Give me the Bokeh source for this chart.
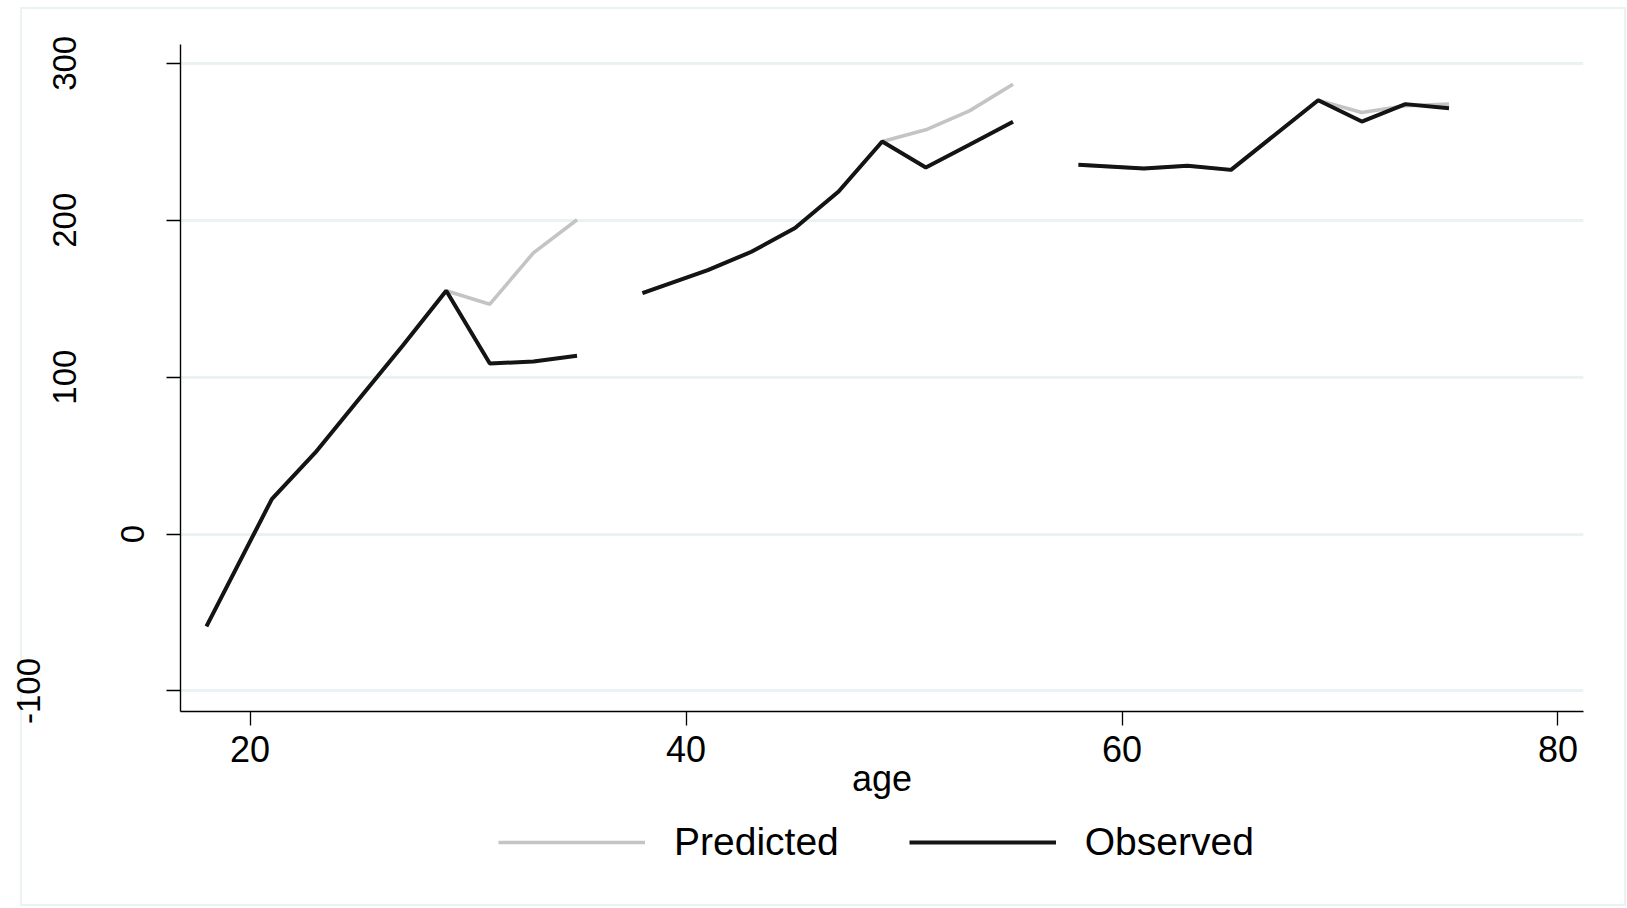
import numpy as np
from bokeh.plotting import figure
from bokeh.layouts import column
from bokeh.models import (ColumnDataSource, FixedTicker, Legend, LegendItem,
                          PrintfTickFormatter, LinearAxis)
from bokeh.embed import file_html
from bokeh.resources import INLINE

nan = np.nan

# ---- data ----
age = [18, 21, 23, 25, 27, 29, 31, 33, 35, nan,
       38, 41, 43, 45, 47, 49, 51, 53, 55, nan,
       58, 61, 63, 65, 69, 71, 73, 75]
observed = [-58.9, 22.3, 52.0, 86.0, 120.0, 155.0, 108.7, 110.0, 113.6, nan,
            153.6, 168.2, 179.9, 195.0, 218.3, 250.2, 233.6, 248.1, 262.7, nan,
            235.3, 233.0, 234.7, 232.1, 276.5, 262.9, 274.0, 271.4]
predicted = [-58.9, 22.3, 52.0, 86.0, 120.0, 155.0, 146.5, 179.2, 200.3, nan,
             153.6, 168.2, 179.9, 195.0, 218.3, 250.2, 257.6, 269.7, 286.7, nan,
             235.3, 233.0, 234.7, 232.1, 276.5, 268.7, 273.0, 274.0]
x_ticks = [20, 40, 60, 80]
y_ticks = [-100, 0, 100, 200, 300]
series_names = ["Predicted", "Observed"]

src = ColumnDataSource(dict(age=np.array(age, dtype=float),
                            obs=np.array(observed, dtype=float),
                            pred=np.array(predicted, dtype=float)))

FONT = "Liberation Sans"
GRID = "#eaf2f3"
PRED_COLOR, OBS_COLOR = "#c4c4c4", "#141414"
PRED_W, OBS_W = 3.6, 4.0

p = figure(width=1627, height=820, output_backend="svg", toolbar_location=None,
           x_range=(16.81, 81.17), y_range=(-113.1, 312.0),
           min_border_left=180, min_border_right=44, min_border_top=44,
           min_border_bottom=109)
p.outline_line_color = None
p.background_fill_color = "white"
p.border_fill_alpha = 0

r_pred = p.line("age", "pred", source=src, line_color=PRED_COLOR, line_width=PRED_W)
r_obs = p.line("age", "obs", source=src, line_color=OBS_COLOR, line_width=OBS_W)

p.xgrid.visible = False
p.ygrid.grid_line_color = GRID
p.ygrid.grid_line_width = 3


def style_axis(ax):
    ax.axis_line_color = "black"
    ax.axis_line_width = 1.4
    ax.major_tick_line_color = "black"
    ax.major_tick_line_width = 1.3
    ax.major_tick_out = 14
    ax.major_tick_in = 0
    ax.minor_tick_line_color = None
    ax.major_label_text_font = FONT
    ax.major_label_text_color = "black"
    ax.formatter = PrintfTickFormatter(format="%d")


style_axis(p.xaxis[0])
style_axis(p.yaxis[0])

p.xaxis.ticker = FixedTicker(ticks=x_ticks)
p.xaxis.major_label_text_font_size = "36px"
p.xaxis.major_label_standoff = 10
p.xaxis.axis_label = "age"
p.xaxis.axis_label_text_font = FONT
p.xaxis.axis_label_text_font_style = "normal"
p.xaxis.axis_label_text_font_size = "36px"
p.xaxis.axis_label_text_color = "black"
p.xaxis.axis_label_standoff = -7

# y axis: line + ticks; the tick labels sit at different distances, as in the reference
yax = p.yaxis[0]
yax.ticker = FixedTicker(ticks=y_ticks)
yax.major_label_text_font_size = "33px"
yax.major_label_orientation = "vertical"
yax.major_label_overrides = {t: "" for t in y_ticks if t != 0}
yax.major_label_standoff = 22

ax2 = LinearAxis(ticker=FixedTicker(ticks=[t for t in y_ticks if t > 0]))
style_axis(ax2)
ax2.axis_line_color = None
ax2.major_tick_line_color = None
ax2.major_tick_out = 0
ax2.major_label_text_font_size = "33px"
ax2.major_label_orientation = "vertical"
ax2.major_label_standoff = 42
p.add_layout(ax2, "left")

ax3 = LinearAxis(ticker=FixedTicker(ticks=[t for t in y_ticks if t < 0]))
style_axis(ax3)
ax3.axis_line_color = None
ax3.major_tick_line_color = None
ax3.major_tick_out = 0
ax3.major_label_text_font_size = "33px"
ax3.major_label_orientation = "vertical"
ax3.major_label_standoff = 10
p.add_layout(ax3, "left")

# legend strip below (its frame is aligned with the main frame by the column)
p2 = figure(width=1627, height=88, output_backend="svg", toolbar_location=None,
            x_range=(0, 1), y_range=(0, 1), min_border=0,
            x_axis_type=None, y_axis_type=None)
p2.outline_line_color = None
p2.background_fill_alpha = 0
p2.border_fill_alpha = 0
p2.xgrid.visible = False
p2.ygrid.visible = False
# same series as legend keys; their data lie outside this strip's ranges
k_pred = p2.line("age", "pred", source=src, line_color=PRED_COLOR, line_width=PRED_W)
k_obs = p2.line("age", "obs", source=src, line_color=OBS_COLOR, line_width=OBS_W)
legend = Legend(items=[LegendItem(label=series_names[0], renderers=[k_pred]),
                       LegendItem(label=series_names[1], renderers=[k_obs])],
                orientation="horizontal", location=(318, 44),
                glyph_width=147, glyph_height=44, label_standoff=29, spacing=70,
                label_text_font=FONT, label_text_font_size="39px",
                label_text_color="black", border_line_color=None,
                background_fill_alpha=0, padding=0, margin=0)
p2.add_layout(legend)

# light outer frame drawn as CSS background lines behind the transparent borders
g = "linear-gradient(%s,%s)" % (GRID, GRID)
bg = ", ".join([
    g + " 20px 7px/1606px 2px no-repeat",
    g + " 20px 904px/1606px 2px no-repeat",
    g + " 20px 7px/2px 899px no-repeat",
    g + " 1624px 7px/2px 899px no-repeat",
    "white",
])
layout = column(p, p2, spacing=0, styles={"background": bg})

open("out.html", "w").write(file_html(layout, INLINE))
